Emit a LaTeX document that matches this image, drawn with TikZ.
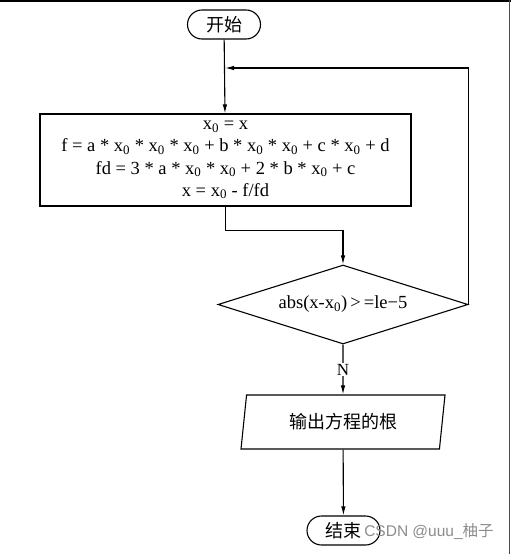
\documentclass[tikz,border=0pt]{standalone}
\usepackage{fontspec}
\setmainfont{Liberation Serif}
\newfontfamily\cjk{Noto Sans CJK SC}
\newfontfamily\wmfont{Liberation Sans}
\usepackage{tikz}
\usetikzlibrary{shapes,arrows.meta}

\begin{document}
\begin{tikzpicture}[x=1pt,y=-1pt,line width=1.1pt,
  >={Latex[length=9pt,width=4.5pt]},
  terminal/.style={draw,rectangle,rounded corners=14.5pt,minimum width=73pt,
    minimum height=29pt,inner sep=0pt,font=\cjk\fontsize{18}{20}\selectfont},
  process/.style={draw,rectangle,minimum width=371pt,minimum height=92pt,
    align=center,inner sep=0pt,font=\fontsize{18.5}{22.3}\selectfont},
  decision/.style={draw,diamond,aspect=3.16,minimum width=250pt,minimum height=79pt,
    inner sep=0pt,font=\fontsize{18.5}{20}\selectfont},
  io/.style={draw,trapezium,trapezium left angle=71.6,trapezium right angle=108.4,
    trapezium stretches body,minimum width=204pt,minimum height=54pt,
    inner sep=0pt,font=\cjk\fontsize{18}{20}\selectfont}]
  \useasboundingbox (0,0) rectangle (511,554);
  \draw[line width=1.6pt] (0,0.8) -- (511,0.8);
  \draw[line width=1.2pt,black!70] (509.6,0) -- (509.6,554);
  \node[terminal] (start) at (224,24.5) {开始};
  \node[process] (iter) at (225.5,160) {x\textsubscript{0} = x\\
    f = a * x\textsubscript{0} * x\textsubscript{0} * x\textsubscript{0} + b * x\textsubscript{0} * x\textsubscript{0} + c * x\textsubscript{0} + d\\
    fd = 3 * a * x\textsubscript{0} * x\textsubscript{0} + 2 * b * x\textsubscript{0} + c\\
    x = x\textsubscript{0} - f/fd};
  \node[decision] (judge) at (343,304.5) {abs(x-x\textsubscript{0})\,>\,=le−5};
  \node[io] (out) at (343,422) {输出方程的根};
  \node[terminal] (stop) at (343.5,530.5) {结束};
  \coordinate (loop) at (225,68);
  \draw[->] (start) -- (iter);
  \draw[->] (iter.south) -- ++(0,24) -| (judge.north);
  \draw[->] (judge.east) |- (loop);
  \draw[->] (judge.south) -- node[fill=white,inner sep=1pt,font=\fontsize{17}{18}\selectfont] {N} (out);
  \draw[->] (out) -- (stop);
  \node[text=black!45,font=\fontsize{15.5}{17}\selectfont] (mark) at (429,532)
    {{\wmfont CSDN @uuu\_}{\cjk 柚子}};
\end{tikzpicture}
\end{document}
